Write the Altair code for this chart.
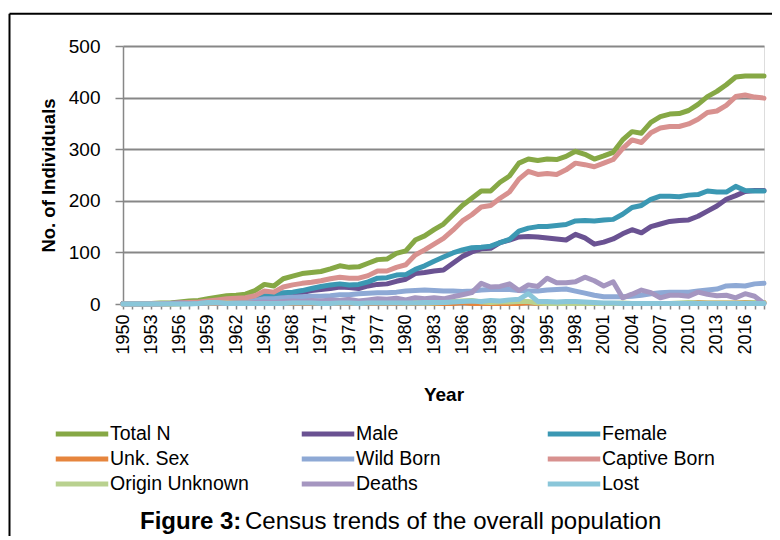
import altair as alt
import pandas as pd

years = list(range(1950, 2019))

series_names = ["Total N", "Male", "Female", "Unk. Sex", "Wild Born",
                "Captive Born", "Origin Unknown", "Deaths", "Lost"]
series_colors = ["#86A845", "#6A5292", "#3B98B3", "#E6853D", "#8EA9D5",
                 "#D8918F", "#B9D18F", "#A596C0", "#8AC6D9"]

total_n = [1, 1, 1, 1, 2, 2, 4, 6, 7, 10,
           13, 16, 17, 19, 26, 38, 35, 49, 54, 59,
           61, 63, 68, 74, 71, 72, 79, 86, 87, 98,
           103, 124, 132, 144, 155, 173, 191, 205, 219, 219,
           236, 248, 273, 281, 278, 281, 280, 286, 296, 290,
           281, 287, 294, 318, 334, 331, 352, 363, 368, 369,
           375, 387, 402, 412, 425, 440, 442, 442, 442]
male = [1, 1, 1, 1, 1, 1, 2, 3, 3, 5,
        6, 8, 8, 9, 11, 14, 14, 18, 20, 22,
        26, 28, 30, 33, 32, 30, 35, 38, 39, 44,
        48, 59, 61, 64, 66, 79, 92, 101, 107, 108,
        119, 124, 130, 131, 130, 128, 126, 124, 135, 128,
        116, 120, 126, 136, 144, 138, 150, 155, 160, 162,
        163, 170, 180, 190, 203, 210, 218, 220, 220]
female = [0, 0, 0, 0, 1, 1, 1, 2, 3, 4,
          5, 6, 7, 7, 10, 16, 16, 22, 23, 26,
          30, 34, 37, 39, 37, 38, 43, 50, 51, 56,
          57, 67, 74, 83, 91, 99, 105, 109, 110, 112,
          119, 125, 141, 147, 150, 150, 152, 154, 161, 162,
          161, 163, 164, 174, 187, 191, 203, 209, 209, 208,
          211, 212, 219, 217, 217, 228, 220, 219, 219]
unk_sex = [0, 0, 0, 0, 0, 0, 1, 1, 1, 1,
           1, 1, 1, 1, 1, 1, 1, 1, 1, 1,
           1, 1, 1, 2, 1, 1, 1, 1, 1, 1,
           1, 1, 3, 1, 1, 1, 3, 1, 1, 1,
           1, 1, 1, 3, 1, 1, 1, 1, 1, 1,
           1, 1, 1, 1, 1, 1, 1, 1, 1, 1,
           1, 3, 2, 2, 2, 2, 3, 3, 3]
wild_born = [1, 1, 1, 1, 1, 1, 2, 2, 2, 3,
             3, 4, 4, 5, 7, 10, 10, 12, 13, 14,
             15, 15, 16, 18, 18, 20, 21, 22, 22, 23,
             25, 26, 27, 26, 25, 25, 24, 25, 27, 28,
             28, 28, 26, 25, 25, 27, 28, 29, 25, 21,
             17, 14, 14, 14, 15, 17, 20, 22, 23, 23,
             23, 25, 27, 29, 35, 36, 35, 39, 40]
captive_born = [0, 0, 0, 0, 1, 1, 2, 3, 4, 6,
                8, 10, 11, 12, 16, 25, 23, 33, 37, 40,
                42, 45, 49, 52, 50, 50, 55, 64, 64, 71,
                76, 95, 105, 116, 127, 143, 161, 173, 188, 191,
                205, 217, 242, 257, 251, 253, 251, 260, 273, 270,
                266, 273, 280, 301, 318, 313, 332, 341, 344, 344,
                349, 358, 371, 374, 385, 402, 405, 401, 399]
origin_unknown = [0, 0, 0, 0, 0, 0, 0, 1, 1, 1,
                  2, 2, 2, 2, 3, 3, 2, 4, 4, 5,
                  4, 3, 3, 4, 3, 2, 3, 8, 6, 4,
                  2, 3, 2, 2, 3, 5, 6, 7, 4, 3,
                  4, 4, 5, 5, 2, 1, 1, 1, 1, 1,
                  1, 1, 1, 2, 1, 1, 1, 1, 1, 2,
                  3, 2, 2, 2, 2, 2, 2, 3, 3]
deaths = [0, 0, 0, 0, 0, 1, 1, 1, 1, 2,
          2, 1, 2, 2, 3, 4, 3, 5, 6, 5,
          7, 6, 8, 7, 9, 6, 8, 10, 9, 11,
          8, 12, 10, 12, 10, 14, 18, 22, 40, 33,
          34, 39, 26, 37, 34, 50, 41, 41, 43, 52,
          45, 35, 43, 12, 19, 27, 22, 12, 17, 17,
          15, 23, 19, 16, 17, 12, 20, 15, 1]
lost = [0, 0, 0, 0, 0, 0, 0, 0, 1, 3,
        3, 1, 1, 1, 1, 1, 1, 1, 2, 2,
        2, 1, 1, 2, 2, 1, 2, 2, 2, 2,
        2, 2, 3, 3, 3, 4, 5, 6, 5, 7,
        6, 8, 9, 20, 5, 5, 4, 5, 5, 4,
        3, 2, 2, 1, 1, 1, 1, 1, 1, 1,
        1, 1, 1, 1, 1, 1, 1, 1, 1]

values = [total_n, male, female, unk_sex, wild_born,
          captive_born, origin_unknown, deaths, lost]

rows = []
for name, vals in zip(series_names, values):
    for yr, v in zip(years, vals):
        rows.append({"year": yr, "series": name, "value": v})
df = pd.DataFrame(rows)

FONT = "Liberation Sans, Arial, sans-serif"
GREY = "#878787"

legend = alt.Legend(
    orient="none", legendX=-56, legendY=373, columns=3, direction="horizontal",
    symbolType="M-2.1,0H2.1", symbolSize=625, symbolStrokeWidth=5,
    labelFontSize=19.5, labelFont=FONT, labelColor="black", labelOffset=13,
    columnPadding=42, rowPadding=0, gridAlign="all", title=None,
    labelLimit=300, padding=0,
)

color = alt.Color("series:N",
                  scale=alt.Scale(domain=series_names, range=series_colors),
                  legend=legend)

x = alt.X("year:Q",
          scale=alt.Scale(domain=[1950, 2018], nice=False, zero=False),
          axis=alt.Axis(values=years, format="d",
                        labelExpr="(datum.value - 1950) % 3 == 0 ? datum.value : ''",
                        labelAngle=270, labelAlign="right", labelBaseline="middle",
                        labelFontSize=18, labelFont=FONT, labelColor="black",
                        labelPadding=5, labelOverlap=False, labelFlush=False,
                        tickSize=5, tickColor=GREY, tickWidth=1.5,
                        domainColor=GREY, domainWidth=1.5, grid=False,
                        title="Year", titleFontSize=19, titleFont=FONT,
                        titleFontWeight="bold", titleColor="black", titlePadding=31))
y = alt.Y("value:Q",
          scale=alt.Scale(domain=[0, 500], nice=False),
          axis=alt.Axis(values=[0, 100, 200, 300, 400, 500],
                        labelFontSize=19, labelFont=FONT, labelColor="black",
                        labelPadding=15, tickSize=8, tickColor=GREY, tickWidth=1.5,
                        domainColor=GREY, domainWidth=1.5,
                        gridColor=GREY, gridWidth=1.8,
                        title="No. of Individuals", titleFontSize=18.5, titleFont=FONT,
                        titleFontWeight="bold", titleColor="black", titlePadding=10))

base = alt.Chart(df)
lines = [
    base.transform_filter(alt.datum.series == name)
    .mark_line(strokeWidth=5, strokeCap="round", strokeJoin="round")
    .encode(x=x, y=y, color=color)
    for name in series_names
]

one = alt.Data(values=[{"k": 0}])
frame_top = alt.Chart(one).mark_rule(color="black", strokeWidth=2).encode(
    x=alt.value(-113.5), x2=alt.value(660), y=alt.value(-32.2))
frame_left = alt.Chart(one).mark_rule(color="black", strokeWidth=2).encode(
    x=alt.value(-113.5), y=alt.value(-32.2), y2=alt.value(500))

cap_bold = alt.Chart(one).mark_text(
    text="Figure 3:", font=FONT, fontSize=24, fontWeight="bold",
    align="left", baseline="alphabetic", color="black").encode(
    x=alt.value(17), y=alt.value(483))
cap_text = alt.Chart(one).mark_text(
    text="Census trends of the overall population", font=FONT, fontSize=24,
    align="left", baseline="alphabetic", color="black").encode(
    x=alt.value(122), y=alt.value(483))

chart = alt.layer(*lines, frame_top, frame_left, cap_bold, cap_text).properties(
    width=641, height=258,
    autosize=alt.AutoSizeParams(type="none"),
    padding={"left": 115, "top": 38, "right": 8, "bottom": 232},
).configure_view(stroke=None).configure(background="white")

chart.save("out.html", embed_options={"renderer": "svg", "actions": False})
